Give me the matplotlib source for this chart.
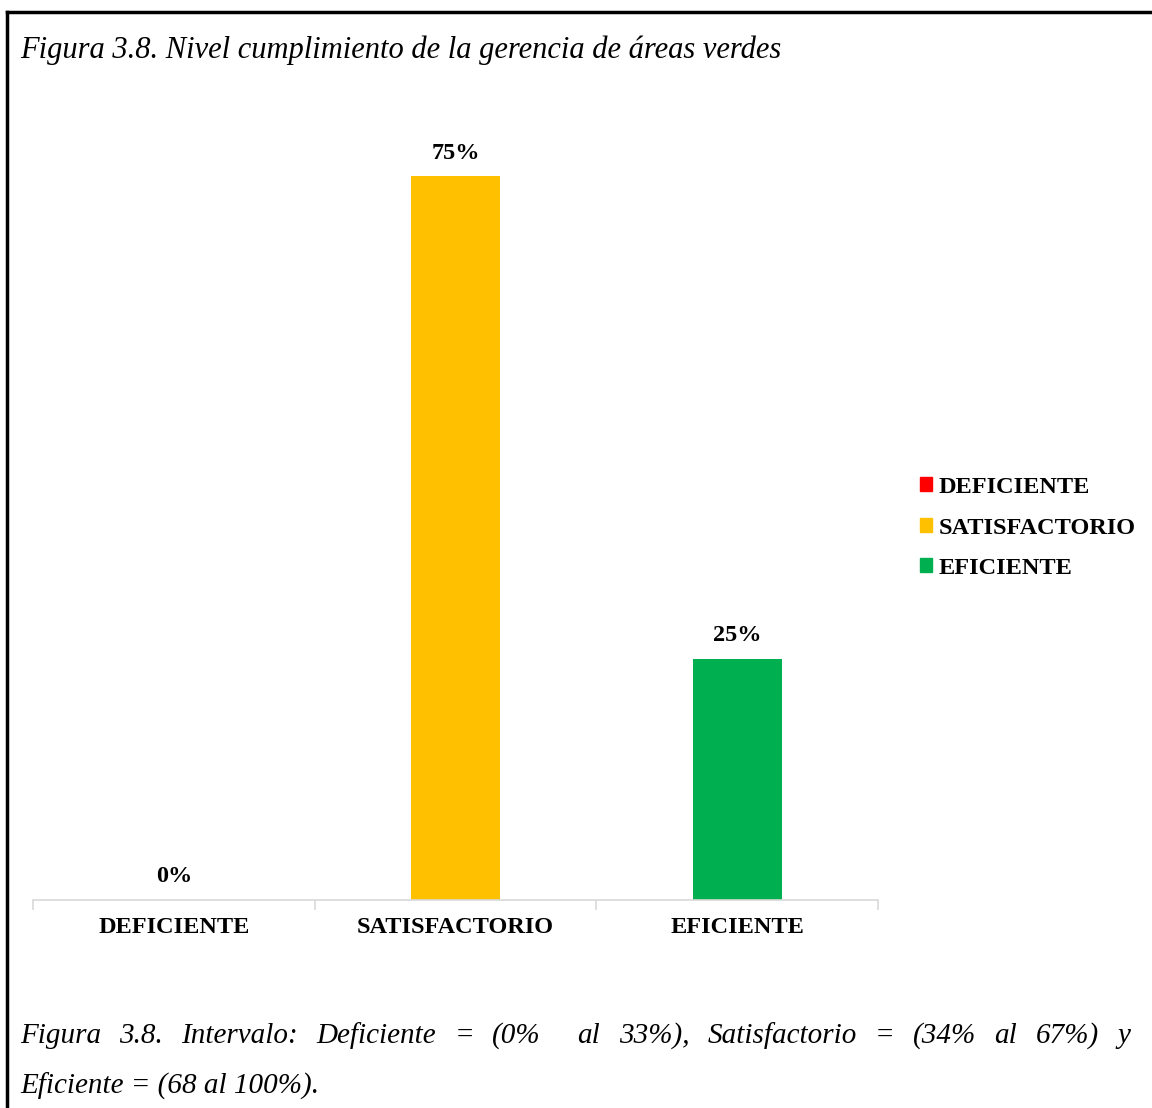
import numpy as np
import matplotlib
matplotlib.use("Agg")
import matplotlib.pyplot as plt
from matplotlib.lines import Line2D
from matplotlib.patches import Patch

categorias = ["DEFICIENTE", "SATISFACTORIO", "EFICIENTE"]
porcentajes = [0, 75, 25]
colores = ["#FF0000", "#FFC000", "#00B050"]

titulo = "Figura 3.8. Nivel cumplimiento de la gerencia de áreas verdes"
nota_1 = "Figura 3.8. Intervalo: Deficiente = (0%  al 33%), Satisfactorio = (34% al 67%) y"
nota_2 = "Eficiente = (68 al 100%)."

plt.rcParams["font.family"] = ["Liberation Serif", "DejaVu Serif"]

W, H = 1152, 1108
fig = plt.figure(figsize=(W / 100, H / 100), dpi=100)

def fx(px):
    return px / W

def fy(py):
    return 1 - py / H

# marco del cuadro
fig.add_artist(Line2D([fx(7), 1.0], [fy(12), fy(12)], color="black", lw=2.5))
fig.add_artist(Line2D([fx(7), fx(7)], [fy(12), 0.0], color="black", lw=2.5))

ax = fig.add_axes([fx(33), fy(900), fx(878) - fx(33), fy(128) - fy(900)])
x = np.arange(len(categorias))
bars = ax.bar(x, porcentajes, width=0.316, color=colores)
ax.set_xlim(-0.5, len(categorias) - 0.5)
ax.set_ylim(0, 80)

for xi, v in zip(x, porcentajes):
    ax.annotate(f"{v}%", (xi, v), xytext=(0, 9), textcoords="offset points",
                ha="center", va="bottom", fontsize=17.5, fontweight="bold")

for s in ["top", "right", "left"]:
    ax.spines[s].set_visible(False)
ax.spines["bottom"].set_color("#D9D9D9")
ax.spines["bottom"].set_linewidth(1.2)
ax.set_yticks([])
ax.set_xticks(np.arange(len(categorias) + 1) - 0.5)
ax.set_xticklabels([])
ax.tick_params(axis="x", length=7, width=1.2, color="#D9D9D9")
for xi, c in zip(x, categorias):
    ax.text(xi, -0.035, c, transform=ax.get_xaxis_transform(), ha="center",
            va="center", fontsize=17.5, fontweight="bold")

fig.text(fx(20), fy(50), titulo, fontsize=22, style="italic", va="center")

leg = fig.legend(handles=[Patch(color=c, label=l) for c, l in zip(colores, categorias)],
                 loc="center left", bbox_to_anchor=(fx(920), fy(528)), frameon=False,
                 prop={"size": 17.5, "weight": "bold"}, handlelength=0.5,
                 handleheight=0.5, handletextpad=0.25, labelspacing=0.8,
                 borderaxespad=0, borderpad=0)

# nota inferior justificada
fig.canvas.draw()
renderer = fig.canvas.get_renderer()

def linea_justificada(texto, y, x0, x1, size):
    palabras = texto.split(" ")
    objs = [fig.text(0, fy(y), p, fontsize=size, style="italic", va="center")
            for p in palabras]
    anchos = [o.get_window_extent(renderer).width for o in objs]
    hueco = (x1 - x0 - sum(anchos)) / (len(palabras) - 1)
    pos = x0
    for o, w in zip(objs, anchos):
        o.set_x(fx(pos))
        pos += w + hueco

linea_justificada(nota_1, 1036, 20, 1130, 21)
fig.text(fx(20), fy(1086), nota_2, fontsize=21, style="italic", va="center")

fig.savefig("out.png", dpi=100)
